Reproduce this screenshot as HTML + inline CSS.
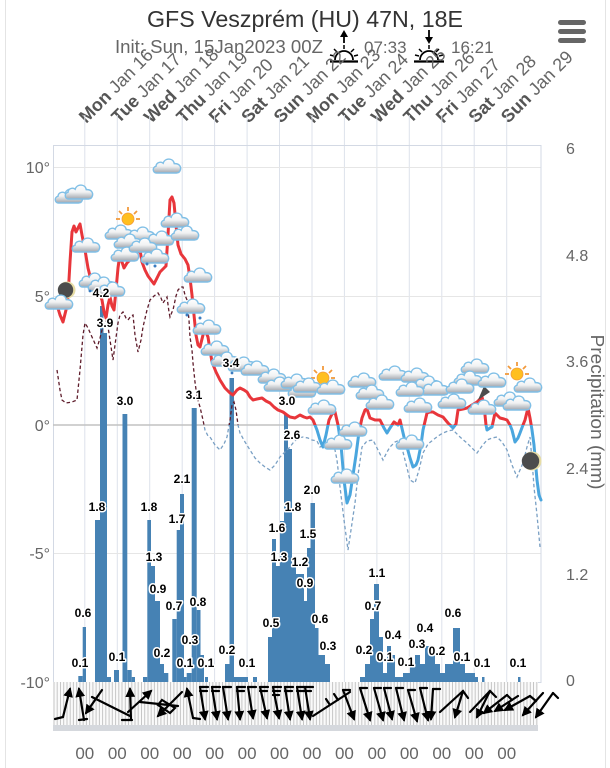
<!DOCTYPE html>
<html><head><meta charset="utf-8"><style>
html,body{margin:0;padding:0;background:#fff;}
svg{display:block;font-family:"Liberation Sans",Arial,sans-serif;}
</style></head><body>
<svg width="610" height="768" viewBox="0 0 610 768" xmlns="http://www.w3.org/2000/svg">
<defs>
<linearGradient id="cg" x1="0" y1="0" x2="0" y2="1"><stop offset="0" stop-color="#ffffff"/><stop offset="0.5" stop-color="#f1f2f3"/><stop offset="1" stop-color="#a0a5ad"/></linearGradient>
<symbol id="cl" viewBox="0 0 28 16" width="31" height="18" overflow="visible"><path d="M5,15.2 C1.5,15.2 0.8,10 4.5,9.2 C4.8,5.5 9,4.6 11,6.4 C12.5,1.5 20,1.2 21,6.8 C25.5,6.5 27.5,9.5 26.5,12.5 C26,14.5 24.5,15.2 23,15.2 Z" fill="url(#cg)" stroke="#80bfe6" stroke-width="1.3"/></symbol>
<clipPath id="above"><rect x="0" y="0" width="610" height="425"/></clipPath>
<clipPath id="below"><rect x="0" y="425" width="610" height="343"/></clipPath>
<marker id="ah" viewBox="0 0 10 10" refX="8" refY="5" markerWidth="4.5" markerHeight="4.5" orient="auto"><path d="M0,0 L10,5 L0,10 z" fill="#000"/></marker>
</defs>

<line x1="5.5" y1="0" x2="5.5" y2="768" stroke="#e4e4e4" stroke-width="1"/>
<line x1="605.5" y1="0" x2="605.5" y2="768" stroke="#e4e4e4" stroke-width="1"/>

<text x="147" y="27" font-size="23" fill="#333" textLength="316" lengthAdjust="spacingAndGlyphs">GFS Veszprém (HU) 47N, 18E</text>
<text x="115" y="53" font-size="18" fill="#666" textLength="208" lengthAdjust="spacingAndGlyphs">Init: Sun, 15Jan2023 00Z</text>
<text x="364" y="53" font-size="17" fill="#666">07:33</text>
<text x="451" y="53" font-size="17" fill="#666">16:21</text>

<!-- sunrise icon -->
<g stroke="#000" fill="none">
<line x1="344" y1="32" x2="344" y2="43" stroke-width="1.8"/>
<path d="M340,37 L344,30 L348,37 z" fill="#000" stroke="none"/>
<path d="M335,60 A9,9 0 0 1 353,60" stroke-width="1.8"/>
<line x1="344" y1="45" x2="344" y2="49" stroke-width="1.5"/>
<line x1="334" y1="49" x2="337" y2="52" stroke-width="1.5"/>
<line x1="354" y1="49" x2="351" y2="52" stroke-width="1.5"/>
<line x1="330" y1="55" x2="334" y2="56" stroke-width="1.5"/>
<line x1="358" y1="55" x2="354" y2="56" stroke-width="1.5"/>
<line x1="330" y1="61.5" x2="358" y2="61.5" stroke-width="2.2"/>
</g>
<!-- sunset icon -->
<g stroke="#000" fill="none">
<line x1="429" y1="30" x2="429" y2="40" stroke-width="1.8"/>
<path d="M425,37 L429,44 L433,37 z" fill="#000" stroke="none"/>
<path d="M420,60 A9,9 0 0 1 438,60" stroke-width="1.8"/>
<line x1="429" y1="45" x2="429" y2="49" stroke-width="1.5"/>
<line x1="419" y1="49" x2="422" y2="52" stroke-width="1.5"/>
<line x1="439" y1="49" x2="436" y2="52" stroke-width="1.5"/>
<line x1="415" y1="55" x2="419" y2="56" stroke-width="1.5"/>
<line x1="443" y1="55" x2="439" y2="56" stroke-width="1.5"/>
<line x1="414" y1="61.5" x2="444" y2="61.5" stroke-width="2.2"/>
</g>

<g fill="#666">
<rect x="558" y="20" width="28" height="5" rx="2.5"/>
<rect x="558" y="29" width="28" height="5" rx="2.5"/>
<rect x="558" y="38" width="28" height="5" rx="2.5"/>
</g>

<!-- day labels -->
<g font-size="18" fill="#666">
<text transform="translate(86.3,124) rotate(-45)"><tspan font-weight="bold" fill="#555">Mon</tspan> Jan 16</text>
<text transform="translate(118.8,124) rotate(-45)"><tspan font-weight="bold" fill="#555">Tue</tspan> Jan 17</text>
<text transform="translate(151.2,124) rotate(-45)"><tspan font-weight="bold" fill="#555">Wed</tspan> Jan 18</text>
<text transform="translate(183.7,124) rotate(-45)"><tspan font-weight="bold" fill="#555">Thu</tspan> Jan 19</text>
<text transform="translate(216.1,124) rotate(-45)"><tspan font-weight="bold" fill="#555">Fri</tspan> Jan 20</text>
<text transform="translate(248.6,124) rotate(-45)"><tspan font-weight="bold" fill="#555">Sat</tspan> Jan 21</text>
<text transform="translate(281,124) rotate(-45)"><tspan font-weight="bold" fill="#555">Sun</tspan> Jan 22</text>
<text transform="translate(313.5,124) rotate(-45)"><tspan font-weight="bold" fill="#555">Mon</tspan> Jan 23</text>
<text transform="translate(345.9,124) rotate(-45)"><tspan font-weight="bold" fill="#555">Tue</tspan> Jan 24</text>
<text transform="translate(378.4,124) rotate(-45)"><tspan font-weight="bold" fill="#555">Wed</tspan> Jan 25</text>
<text transform="translate(410.8,124) rotate(-45)"><tspan font-weight="bold" fill="#555">Thu</tspan> Jan 26</text>
<text transform="translate(443.3,124) rotate(-45)"><tspan font-weight="bold" fill="#555">Fri</tspan> Jan 27</text>
<text transform="translate(475.7,124) rotate(-45)"><tspan font-weight="bold" fill="#555">Sat</tspan> Jan 28</text>
<text transform="translate(508.2,124) rotate(-45)"><tspan font-weight="bold" fill="#555">Sun</tspan> Jan 29</text>
</g>

<!-- grid -->
<g stroke="#dde2eb" stroke-width="1">
<line x1="84.8" y1="115" x2="84.8" y2="682"/>
<line x1="117.3" y1="115" x2="117.3" y2="682"/>
<line x1="149.7" y1="115" x2="149.7" y2="682"/>
<line x1="182.2" y1="115" x2="182.2" y2="682"/>
<line x1="214.6" y1="115" x2="214.6" y2="682"/>
<line x1="247.1" y1="115" x2="247.1" y2="682"/>
<line x1="279.5" y1="115" x2="279.5" y2="682"/>
<line x1="312" y1="115" x2="312" y2="682"/>
<line x1="344.4" y1="115" x2="344.4" y2="682"/>
<line x1="376.9" y1="115" x2="376.9" y2="682"/>
<line x1="409.3" y1="115" x2="409.3" y2="682"/>
<line x1="441.8" y1="115" x2="441.8" y2="682"/>
<line x1="474.2" y1="115" x2="474.2" y2="682"/>
<line x1="506.7" y1="115" x2="506.7" y2="682"/>
</g>
<g stroke="#e6e6e6" stroke-width="1">
<line x1="53" y1="167.5" x2="541" y2="167.5"/>
<line x1="53" y1="296.5" x2="541" y2="296.5"/>
<line x1="53" y1="553.5" x2="541" y2="553.5"/>
</g>
<rect x="53.5" y="145.5" width="487.5" height="537" fill="none" stroke="#d3d9e4" stroke-width="1"/>
<line x1="53" y1="425" x2="541" y2="425" stroke="#c2c2c2" stroke-width="1.5"/>

<g font-size="16" fill="#666" text-anchor="end">
<text x="50" y="173">10°</text>
<text x="50" y="302">5°</text>
<text x="50" y="431">0°</text>
<text x="50" y="559">-5°</text>
<text x="50" y="688">-10°</text>
</g>
<g font-size="16" fill="#666">
<text x="566" y="154">6</text>
<text x="566" y="261">4.8</text>
<text x="566" y="367">3.6</text>
<text x="566" y="474">2.4</text>
<text x="566" y="580">1.2</text>
<text x="566" y="686">0</text>
</g>
<text transform="translate(591,412) rotate(90)" font-size="18" fill="#666" text-anchor="middle" textLength="155" lengthAdjust="spacingAndGlyphs">Precipitation (mm)</text>

<!-- bars -->
<g fill="#4682b4">
<rect x="78.3" y="676" width="4.4" height="6"/>
<rect x="82.7" y="627" width="3.3" height="55"/>
<rect x="95" y="520" width="5" height="162"/>
<rect x="100" y="306" width="3.5" height="376"/>
<rect x="103.5" y="333" width="3.5" height="349"/>
<rect x="107" y="677" width="4" height="5"/>
<rect x="114" y="670" width="5" height="12"/>
<rect x="122.5" y="414" width="4.8" height="268"/>
<rect x="127.3" y="670" width="4.4" height="12"/>
<rect x="131.7" y="677" width="3.3" height="5"/>
<rect x="143" y="677" width="4.3" height="5"/>
<rect x="147.3" y="520" width="3.7" height="162"/>
<rect x="151" y="566" width="4" height="116"/>
<rect x="155" y="601" width="5" height="81"/>
<rect x="160" y="664" width="4" height="18"/>
<rect x="164" y="673" width="4.3" height="9"/>
<rect x="172.3" y="619" width="4.4" height="63"/>
<rect x="176.7" y="530" width="3.3" height="152"/>
<rect x="180" y="494" width="4" height="188"/>
<rect x="184" y="677" width="2.7" height="5"/>
<rect x="186.7" y="673" width="5" height="9"/>
<rect x="191.7" y="408" width="5" height="274"/>
<rect x="196.7" y="610" width="3.8" height="72"/>
<rect x="200.5" y="655" width="3.5" height="27"/>
<rect x="205" y="677" width="3" height="5"/>
<rect x="225" y="664" width="4.5" height="18"/>
<rect x="229.5" y="378" width="4.5" height="304"/>
<rect x="234" y="677" width="14" height="5"/>
<rect x="253" y="677" width="4" height="5"/>
<rect x="268" y="637" width="4" height="45"/>
<rect x="272" y="539" width="4" height="143"/>
<rect x="276" y="566" width="4" height="116"/>
<rect x="280" y="521" width="4" height="161"/>
<rect x="284" y="414" width="4" height="268"/>
<rect x="288" y="449" width="4" height="233"/>
<rect x="292" y="566" width="4" height="116"/>
<rect x="296" y="574" width="4" height="108"/>
<rect x="300" y="574" width="4" height="108"/>
<rect x="304" y="601" width="3" height="81"/>
<rect x="307" y="548" width="3.5" height="134"/>
<rect x="310.5" y="503" width="4.5" height="179"/>
<rect x="315" y="628" width="3.5" height="54"/>
<rect x="318.5" y="655" width="6.5" height="27"/>
<rect x="325" y="664" width="5" height="18"/>
<rect x="360" y="677" width="5" height="5"/>
<rect x="365" y="664" width="5" height="18"/>
<rect x="370" y="619" width="4" height="63"/>
<rect x="374" y="584" width="5" height="98"/>
<rect x="379" y="637" width="4" height="45"/>
<rect x="383" y="673" width="4" height="9"/>
<rect x="387" y="646" width="4" height="36"/>
<rect x="391" y="655" width="4" height="27"/>
<rect x="395" y="677" width="8" height="5"/>
<rect x="403" y="673" width="7" height="9"/>
<rect x="410" y="664" width="5" height="18"/>
<rect x="415" y="655" width="5" height="27"/>
<rect x="420" y="664" width="5" height="18"/>
<rect x="425" y="646" width="5" height="36"/>
<rect x="430" y="655" width="5" height="27"/>
<rect x="435" y="664" width="5" height="18"/>
<rect x="440" y="673" width="5" height="9"/>
<rect x="445" y="664" width="8" height="18"/>
<rect x="453" y="628" width="7" height="54"/>
<rect x="460" y="664" width="5" height="18"/>
<rect x="465" y="673" width="10" height="9"/>
<rect x="475" y="677" width="3" height="5"/>
<rect x="482" y="677" width="2.5" height="5"/>
<rect x="518" y="677" width="2.5" height="5"/>
</g>

<!-- dew point dashed -->
<g fill="none" stroke-width="1.3" stroke-dasharray="3.5,2.5">
<polyline clip-path="url(#above)" stroke="#5e1c2b" points="57,370 60,390 62,400 66,403 72,402 77,400 80,370 83,335 85,323 88,328 92,337 97,348 100,338 102,330 105,322 107,320 110,340 113,360 115,345 118,323 120,315 123,312 126,318 128,320 131,316 133,315 135,335 138,352 141,340 143,327 147,310 150,300 154,296 158,293 161,298 163,303 165,300 167,297 169,312 170,317 172,312 173,310 176,296 178,290 181,287 183,287 185,295 187,300 189,320 190,337 192,350 193,363 195,382 197,397 200,407 203,420 205,430 208,436 210,437 215,445 220,450 224,444 227,437 230,420 232,405 234,402 236,410 238,425 240,433 245,442 250,450 255,458 260,463 265,467 270,470 275,465 280,457 284,453 287,450 290,447 293,443 298,438 303,437 308,438 312,440 317,441 320,447 326,444 333,440 337,460 340,487 344,520 348,550 351,530 355,503 358,475 362,447 367,441 373,440 378,450 383,460 387,452 390,447 395,442 400,440 405,460 410,480 415,483 419,470 423,453 428,444 433,440 438,436 443,433 448,431 453,430 460,437 467,443 472,448 477,453 482,446 487,440 492,438 497,437 502,442 507,450 512,465 517,477 520,470 523,463 527,447 530,437 532,460 534,487 537,515 540,547"/>
<polyline clip-path="url(#below)" stroke="#7aa0c4" points="57,370 60,390 62,400 66,403 72,402 77,400 80,370 83,335 85,323 88,328 92,337 97,348 100,338 102,330 105,322 107,320 110,340 113,360 115,345 118,323 120,315 123,312 126,318 128,320 131,316 133,315 135,335 138,352 141,340 143,327 147,310 150,300 154,296 158,293 161,298 163,303 165,300 167,297 169,312 170,317 172,312 173,310 176,296 178,290 181,287 183,287 185,295 187,300 189,320 190,337 192,350 193,363 195,382 197,397 200,407 203,420 205,430 208,436 210,437 215,445 220,450 224,444 227,437 230,420 232,405 234,402 236,410 238,425 240,433 245,442 250,450 255,458 260,463 265,467 270,470 275,465 280,457 284,453 287,450 290,447 293,443 298,438 303,437 308,438 312,440 317,441 320,447 326,444 333,440 337,460 340,487 344,520 348,550 351,530 355,503 358,475 362,447 367,441 373,440 378,450 383,460 387,452 390,447 395,442 400,440 405,460 410,480 415,483 419,470 423,453 428,444 433,440 438,436 443,433 448,431 453,430 460,437 467,443 472,448 477,453 482,446 487,440 492,438 497,437 502,442 507,450 512,465 517,477 520,470 523,463 527,447 530,437 532,460 534,487 537,515 540,547"/>
</g>

<!-- temperature -->
<g fill="none" stroke-width="3" stroke-linejoin="round" stroke-linecap="round">
<polyline clip-path="url(#above)" stroke="#e8363b" points="57,305 60,315 63,322 66,310 68,297 70,262 72,232 74,226 76,232 78,228 80,224 82,235 85,250 88,268 91,280 95,288 99,293 102,300 104,312 106,318 108,305 110,297 112,306 114,310 116,290 118,268 120,254 122,262 124,268 127,263 130,260 134,256 137,253 140,250 142,262 145,270 148,276 151,280 154,284 157,278 160,272 164,268 166,266 168,235 170,200 172,197 174,203 176,225 178,245 181,254 185,259 188,265 190,278 192,295 194,315 196,335 198,345 200,347 203,335 205,330 208,337 210,350 212,362 216,372 220,380 225,388 230,393 233,395 237,390 240,388 244,390 247,392 250,397 253,400 257,399 262,398 266,401 270,403 274,407 278,410 283,412 287,415 290,417 295,418 300,415 304,417 307,418 310,417 313,420 317,430 320,440 323,447 326,435 329,420 332,414 335,412 338,425 341,445 344,480 347,503 350,495 353,475 356,455 359,432 362,418 365,410 367,409 370,418 375,420 380,420 384,428 387,433 390,428 394,422 398,425 400,420 404,437 407,447 410,458 413,467 416,465 418,460 421,445 423,430 427,413 430,412 433,412 438,415 443,417 448,423 453,428 456,424 458,410 463,409 467,408 472,405 477,402 482,397 484,405 486,425 487,430 490,428 492,427 495,413 500,418 504,419 507,420 510,425 512,430 515,442 518,438 520,433 523,425 525,420 528,408 530,418 532,430 534,445 535,457 537,480 539,495 541,500"/>
<polyline clip-path="url(#below)" stroke="#4aa6de" points="57,305 60,315 63,322 66,310 68,297 70,262 72,232 74,226 76,232 78,228 80,224 82,235 85,250 88,268 91,280 95,288 99,293 102,300 104,312 106,318 108,305 110,297 112,306 114,310 116,290 118,268 120,254 122,262 124,268 127,263 130,260 134,256 137,253 140,250 142,262 145,270 148,276 151,280 154,284 157,278 160,272 164,268 166,266 168,235 170,200 172,197 174,203 176,225 178,245 181,254 185,259 188,265 190,278 192,295 194,315 196,335 198,345 200,347 203,335 205,330 208,337 210,350 212,362 216,372 220,380 225,388 230,393 233,395 237,390 240,388 244,390 247,392 250,397 253,400 257,399 262,398 266,401 270,403 274,407 278,410 283,412 287,415 290,417 295,418 300,415 304,417 307,418 310,417 313,420 317,430 320,440 323,447 326,435 329,420 332,414 335,412 338,425 341,445 344,480 347,503 350,495 353,475 356,455 359,432 362,418 365,410 367,409 370,418 375,420 380,420 384,428 387,433 390,428 394,422 398,425 400,420 404,437 407,447 410,458 413,467 416,465 418,460 421,445 423,430 427,413 430,412 433,412 438,415 443,417 448,423 453,428 456,424 458,410 463,409 467,408 472,405 477,402 482,397 484,405 486,425 487,430 490,428 492,427 495,413 500,418 504,419 507,420 510,425 512,430 515,442 518,438 520,433 523,425 525,420 528,408 530,418 532,430 534,445 535,457 537,480 539,495 541,500"/>
</g>

<!-- suns -->
<g>
<g stroke="#f29a3c" stroke-width="1.8">
<line x1="128" y1="207" x2="128" y2="211"/><line x1="119" y1="211" x2="122" y2="214"/><line x1="137" y1="211" x2="134" y2="214"/><line x1="116" y1="219" x2="120" y2="219"/><line x1="140" y1="219" x2="136" y2="219"/>
<line x1="323" y1="366" x2="323" y2="370"/><line x1="314" y1="370" x2="317" y2="373"/><line x1="332" y1="370" x2="329" y2="373"/><line x1="311" y1="378" x2="315" y2="378"/><line x1="335" y1="378" x2="331" y2="378"/>
<line x1="517" y1="362" x2="517" y2="366"/><line x1="508" y1="366" x2="511" y2="369"/><line x1="526" y1="366" x2="523" y2="369"/><line x1="505" y1="374" x2="509" y2="374"/><line x1="529" y1="374" x2="525" y2="374"/>
</g>
<circle cx="128" cy="219" r="6" fill="#ffbf1f" stroke="#f29a3c" stroke-width="0.8"/>
<circle cx="323" cy="378" r="6" fill="#ffbf1f" stroke="#f29a3c" stroke-width="0.8"/>
<circle cx="517" cy="374" r="6" fill="#ffbf1f" stroke="#f29a3c" stroke-width="0.8"/>
</g>
<circle cx="67" cy="290" r="8.5" fill="#e6dca4"/>
<circle cx="65.5" cy="290" r="7.7" fill="#4c4c4c"/>
<circle cx="532" cy="461" r="9.5" fill="#e6dca4"/>
<circle cx="530.5" cy="461" r="8.7" fill="#4c4c4c"/>
<path d="M478,400 L484,386 L490,392 z" fill="#4c4c4c"/>

<!-- clouds -->
<g>
<use href="#cl" x="53" y="186"/><use href="#cl" x="63" y="182"/>
<use href="#cl" x="70" y="235"/>
<use href="#cl" x="43" y="292"/>
<use href="#cl" x="77" y="270"/><use href="#cl" x="86" y="274"/><use href="#cl" x="95" y="279"/>
<use href="#cl" x="151" y="156"/>
<use href="#cl" x="103" y="222"/><use href="#cl" x="125" y="224"/><use href="#cl" x="112" y="231"/>
<use href="#cl" x="144" y="228"/><use href="#cl" x="109" y="244"/><use href="#cl" x="127" y="235"/><use href="#cl" x="139" y="246"/>
<use href="#cl" x="159" y="210"/><use href="#cl" x="169" y="223"/>
<use href="#cl" x="182" y="265"/><use href="#cl" x="175" y="296"/><use href="#cl" x="191" y="317"/><use href="#cl" x="199" y="338"/>
<use href="#cl" x="209" y="349"/><use href="#cl" x="226" y="354"/><use href="#cl" x="239" y="358"/><use href="#cl" x="256" y="366"/><use href="#cl" x="262" y="374"/><use href="#cl" x="279" y="371"/><use href="#cl" x="286" y="380"/><use href="#cl" x="291" y="375"/>
<use href="#cl" x="315" y="377"/><use href="#cl" x="306" y="397"/>
<use href="#cl" x="346" y="370"/><use href="#cl" x="354" y="382"/><use href="#cl" x="364" y="392"/><use href="#cl" x="377" y="363"/>
<use href="#cl" x="399" y="365"/><use href="#cl" x="411" y="373"/><use href="#cl" x="419" y="378"/><use href="#cl" x="394" y="379"/>
<use href="#cl" x="459" y="356"/><use href="#cl" x="452" y="368"/><use href="#cl" x="444" y="376"/><use href="#cl" x="476" y="370"/>
<use href="#cl" x="436" y="391"/><use href="#cl" x="466" y="397"/><use href="#cl" x="402" y="395"/><use href="#cl" x="492" y="389"/><use href="#cl" x="501" y="393"/>
<use href="#cl" x="512" y="375"/>
<use href="#cl" x="322" y="432"/><use href="#cl" x="337" y="419"/><use href="#cl" x="329" y="466"/><use href="#cl" x="394" y="432"/>
</g>
<g fill="#3b7cc0">
<circle cx="147" cy="264" r="1.5"/><circle cx="155" cy="266" r="1.5"/><circle cx="187" cy="315" r="1.5"/><circle cx="200" cy="318" r="1.5"/><circle cx="90" cy="291" r="1.4"/><circle cx="232" cy="373" r="1.4"/>
</g>

<!-- data labels -->
<g font-size="12" font-weight="bold" fill="#000" text-anchor="middle" stroke="#fff" stroke-width="3" stroke-linejoin="round" style="paint-order:stroke">
<text x="101" y="297">4.2</text><text x="105" y="327">3.9</text><text x="125" y="405">3.0</text><text x="194" y="399">3.1</text><text x="231" y="367">3.4</text><text x="287" y="405">3.0</text>
<text x="97" y="511">1.8</text><text x="83" y="617">0.6</text><text x="80" y="667">0.1</text><text x="117" y="661">0.1</text>
<text x="149" y="511">1.8</text><text x="154" y="561">1.3</text><text x="158" y="593">0.9</text><text x="162" y="657">0.2</text>
<text x="182" y="483">2.1</text><text x="177" y="523">1.7</text><text x="174" y="610">0.7</text><text x="198" y="606">0.8</text><text x="190" y="644">0.3</text><text x="185" y="667">0.1</text><text x="206" y="667">0.1</text>
<text x="227" y="654">0.2</text><text x="247" y="667">0.1</text>
<text x="271" y="627">0.5</text><text x="277" y="532">1.6</text><text x="279" y="561">1.3</text><text x="293" y="511">1.8</text><text x="292" y="439">2.6</text>
<text x="300" y="566">1.2</text><text x="305" y="587">0.9</text><text x="308" y="538">1.5</text><text x="312" y="494">2.0</text><text x="320" y="623">0.6</text><text x="328" y="650">0.3</text>
<text x="377" y="577">1.1</text><text x="373" y="610">0.7</text><text x="364" y="654">0.2</text><text x="385" y="661">0.1</text><text x="393" y="639">0.4</text><text x="406" y="666">0.1</text>
<text x="417" y="648">0.3</text><text x="425" y="632">0.4</text><text x="437" y="655">0.2</text><text x="453" y="617">0.6</text><text x="462" y="661">0.1</text><text x="482" y="667">0.1</text><text x="518" y="667">0.1</text>
</g>

<!-- wind strip -->
<rect x="53" y="682" width="485" height="43" fill="#fafafa"/>
<g stroke="#c6c6c6" stroke-width="1">
<path d="M54,682V725M57.2,682V725M60.5,682V725M63.7,682V725M67,682V725M70.2,682V725M73.4,682V725M76.7,682V725M79.9,682V725M83.2,682V725M86.4,682V725M89.6,682V725M92.9,682V725M96.1,682V725M99.4,682V725M102.6,682V725M105.8,682V725M109.1,682V725M112.3,682V725M115.6,682V725M118.8,682V725M122,682V725M125.3,682V725M128.5,682V725M131.8,682V725M135,682V725M138.2,682V725M141.5,682V725M144.7,682V725M148,682V725M151.2,682V725M154.4,682V725M157.7,682V725M160.9,682V725M164.2,682V725M167.4,682V725M170.6,682V725M173.9,682V725M177.1,682V725M180.4,682V725M183.6,682V725M186.8,682V725M190.1,682V725M193.3,682V725M196.6,682V725M199.8,682V725M203,682V725M206.3,682V725M209.5,682V725M212.8,682V725M216,682V725M219.2,682V725M222.5,682V725M225.7,682V725M229,682V725M232.2,682V725M235.4,682V725M238.7,682V725M241.9,682V725M245.2,682V725M248.4,682V725M251.6,682V725M254.9,682V725M258.1,682V725M261.4,682V725M264.6,682V725M267.8,682V725M271.1,682V725M274.3,682V725M277.6,682V725M280.8,682V725M284,682V725M287.3,682V725M290.5,682V725M293.8,682V725M297,682V725M300.2,682V725M303.5,682V725M306.7,682V725M310,682V725M313.2,682V725M316.4,682V725M319.7,682V725M322.9,682V725M326.2,682V725M329.4,682V725M332.6,682V725M335.9,682V725M339.1,682V725M342.4,682V725M345.6,682V725M348.8,682V725M352.1,682V725M355.3,682V725M358.6,682V725M361.8,682V725M365,682V725M368.3,682V725M371.5,682V725M374.8,682V725M378,682V725M381.2,682V725M384.5,682V725M387.7,682V725M391,682V725M394.2,682V725M397.4,682V725M400.7,682V725M403.9,682V725M407.2,682V725M410.4,682V725M413.6,682V725M416.9,682V725M420.1,682V725M423.4,682V725M426.6,682V725M429.8,682V725M433.1,682V725M436.3,682V725M439.6,682V725M442.8,682V725M446,682V725M449.3,682V725M452.5,682V725M455.8,682V725M459,682V725M462.2,682V725M465.5,682V725M468.7,682V725M472,682V725M475.2,682V725M478.4,682V725M481.7,682V725M484.9,682V725M488.2,682V725M491.4,682V725M494.6,682V725M497.9,682V725M501.1,682V725M504.4,682V725M507.6,682V725M510.8,682V725M514.1,682V725M517.3,682V725M520.6,682V725M523.8,682V725M527,682V725M530.3,682V725M533.5,682V725M536.8,682V725"/>
</g>
<rect x="53" y="725" width="485" height="6" fill="#d5d8dd"/>

<!-- wind barbs -->
<g stroke="#000" stroke-width="2.2" fill="none" stroke-linecap="round">
<path d="M55,719 L63,717 M79,720 L87,719 M92,697 L130,716 M122,720 L132,720 M140,702 L178,706 M193,718 L200,719 M162,700 L175,708 L170,713 L158,705 z"/>
<line x1="63" y1="717" x2="70" y2="689" marker-end="url(#ah)"/>
<line x1="84" y1="720" x2="79" y2="689" marker-end="url(#ah)"/>
<line x1="102" y1="690" x2="86" y2="713" marker-end="url(#ah)"/>
<line x1="131" y1="720" x2="130" y2="689" marker-end="url(#ah)"/>
<line x1="128" y1="712" x2="151" y2="691" marker-end="url(#ah)"/>
<line x1="182" y1="692" x2="158" y2="716" marker-end="url(#ah)"/>
<line x1="193" y1="718" x2="187" y2="689" marker-end="url(#ah)"/>
<path d="M200,687 h8 M200,691 h7 M212,687 h8 M212,691 h7 M223,687 h8 M237,687 h8 M237,691 h7 M248,687 h8 M260,687 h8 M260,691 h7 M273,687 h8 M273,691 h7 M273,695 h6 M285,687 h8 M285,691 h7 M297,687 h8 M297,691 h7 M305,687 h8 M305,691 h6"/>
<line x1="200" y1="687" x2="205" y2="719" marker-end="url(#ah)"/>
<line x1="212" y1="687" x2="217" y2="719" marker-end="url(#ah)"/>
<line x1="223" y1="687" x2="228" y2="719" marker-end="url(#ah)"/>
<line x1="237" y1="687" x2="240" y2="719" marker-end="url(#ah)"/>
<line x1="248" y1="687" x2="253" y2="718" marker-end="url(#ah)"/>
<line x1="260" y1="687" x2="267" y2="718" marker-end="url(#ah)"/>
<line x1="273" y1="687" x2="279" y2="718" marker-end="url(#ah)"/>
<line x1="285" y1="687" x2="290" y2="719" marker-end="url(#ah)"/>
<line x1="297" y1="687" x2="302" y2="719" marker-end="url(#ah)"/>
<line x1="305" y1="687" x2="310" y2="719" marker-end="url(#ah)"/>
<path d="M313,716 L350,692 M330,705 l-4,-6 M338,700 l-4,-6 M343,690 h7 M360,688 h7"/>
<line x1="343" y1="690" x2="354" y2="719" marker-end="url(#ah)"/>
<line x1="360" y1="688" x2="370" y2="720" marker-end="url(#ah)"/>
<path d="M374,688 h7 M384,688 h7 M396,688 h7 M408,690 h7 M420,688 h7 M433,689 h7"/>
<line x1="374" y1="688" x2="383" y2="720" marker-end="url(#ah)"/>
<line x1="384" y1="688" x2="392" y2="719" marker-end="url(#ah)"/>
<line x1="396" y1="688" x2="404" y2="720" marker-end="url(#ah)"/>
<line x1="408" y1="690" x2="417" y2="721" marker-end="url(#ah)"/>
<line x1="420" y1="688" x2="428" y2="720" marker-end="url(#ah)"/>
<line x1="433" y1="689" x2="431" y2="719" marker-end="url(#ah)"/>
<path d="M440,712 L463,691 L468,698 M470,712 L490,691 L496,697 M507,695 L512,700 M530,696 L536,701 M553,693 L558,698"/>
<line x1="463" y1="691" x2="455" y2="717" marker-end="url(#ah)"/>
<line x1="490" y1="691" x2="477" y2="717" marker-end="url(#ah)"/>
<line x1="507" y1="695" x2="484" y2="713" marker-end="url(#ah)"/>
<line x1="518" y1="696" x2="495" y2="711" marker-end="url(#ah)"/>
<line x1="530" y1="696" x2="505" y2="710" marker-end="url(#ah)"/>
<line x1="543" y1="693" x2="523" y2="715" marker-end="url(#ah)"/>
<line x1="553" y1="693" x2="536" y2="717" marker-end="url(#ah)"/>
</g>

<g font-size="17" fill="#666" text-anchor="middle">
<text x="84.8" y="759">00</text><text x="117.3" y="759">00</text><text x="149.7" y="759">00</text><text x="182.2" y="759">00</text><text x="214.6" y="759">00</text><text x="247.1" y="759">00</text><text x="279.5" y="759">00</text><text x="312" y="759">00</text><text x="344.4" y="759">00</text><text x="376.9" y="759">00</text><text x="409.3" y="759">00</text><text x="441.8" y="759">00</text><text x="474.2" y="759">00</text><text x="506.7" y="759">00</text>
</g>
</svg>
</body></html>
